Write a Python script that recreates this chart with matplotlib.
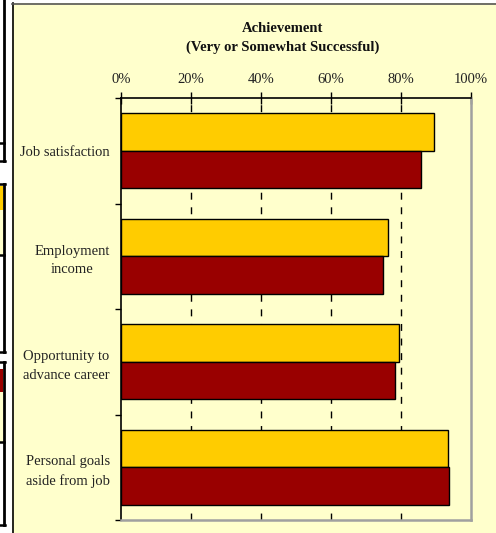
import matplotlib
matplotlib.use("Agg")
import matplotlib.pyplot as plt
from matplotlib.patches import Rectangle
from matplotlib.lines import Line2D
import numpy as np

# ---- data ----
categories = ["Job satisfaction", "Employment\nincome",
              "Opportunity to\nadvance career", "Personal goals\naside from job"]
series_yellow = [89.4, 76.3, 79.3, 93.4]
series_red = [85.6, 75.0, 78.4, 93.7]
x_ticks = [0, 20, 40, 60, 80, 100]
x_tick_labels = ["0%", "20%", "40%", "60%", "80%", "100%"]
title = "Achievement\n(Very or Somewhat Successful)"

YELLOW = "#FFCC00"
RED = "#990000"
BG = "#FFFFCC"
W, H = 496, 533

plt.rcParams['font.family'] = ['Liberation Serif', 'DejaVu Serif']

fig = plt.figure(figsize=(W / 100, H / 100), dpi=100)
fig.patch.set_facecolor("white")

def fx(x):
    return x / W

def fy(y):
    return 1 - y / H

# panel background
fig.add_artist(Rectangle((fx(12), 0), 1 - fx(12), fy(3), transform=fig.transFigure,
                         facecolor=BG, edgecolor="none", zorder=0))
fig.add_artist(Line2D([fx(12.5), fx(12.5)], [0, fy(3)], transform=fig.transFigure,
                      color="black", lw=1.2))
fig.add_artist(Line2D([fx(12), 1], [fy(3.5), fy(3.5)], transform=fig.transFigure,
                      color="#555555", lw=1.2))

# cropped neighbouring panel fragments at the far left
def frag_box(y0, y1, inner=None, strip=None):
    if strip is not None:
        c, s0, s1 = strip
        fig.add_artist(Rectangle((0, fy(s1)), fx(3), fy(s0) - fy(s1), transform=fig.transFigure,
                                 facecolor=c, edgecolor="none"))
    if inner is not None:
        fig.add_artist(Line2D([0, fx(4)], [fy(inner), fy(inner)], transform=fig.transFigure,
                              color="black", lw=1.8))
    fig.add_artist(Line2D([fx(3.5), fx(3.5)], [fy(y0), fy(y1)], transform=fig.transFigure,
                          color="black", lw=2))
    for yy in (y0, y1):
        if yy > 0:
            fig.add_artist(Line2D([0, fx(4.5)], [fy(yy), fy(yy)], transform=fig.transFigure,
                                  color="black", lw=1.8))

frag_box(0, 161, inner=143)
fig.add_artist(Rectangle((0, fy(255)), fx(3), fy(210) - fy(255), transform=fig.transFigure,
                         facecolor=BG, edgecolor="none"))
frag_box(184, 352, inner=255, strip=(YELLOW, 186, 210))
fig.add_artist(Rectangle((0, fy(442)), fx(3), fy(392) - fy(442), transform=fig.transFigure,
                         facecolor=BG, edgecolor="none"))
frag_box(362, 525, inner=442, strip=(RED, 369, 392))

# ---- main axes ----
ax = fig.add_axes([fx(121), fy(520), fx(471) - fx(121), fy(98) - fy(520)])
ax.set_facecolor(BG)

n = len(categories)
pos = np.arange(n)
h = 0.356
ax.barh(pos - h / 2, series_yellow, height=h, color=YELLOW, edgecolor="black", lw=1, zorder=3)
ax.barh(pos + h / 2, series_red, height=h, color=RED, edgecolor="black", lw=1, zorder=3)

ax.set_xlim(0, 100)
ax.set_ylim(n - 0.5, -0.5)

for gx in x_ticks[1:-1]:
    ax.axvline(gx, color="black", lw=1, linestyle=(0, (5, 5.5)), zorder=1)

FS = 10.5
ax.xaxis.tick_top()
ax.set_xticks(x_ticks)
ax.set_xticklabels(x_tick_labels, fontsize=FS, color="#222222")
ax.tick_params(axis="x", direction="inout", length=9, width=1, pad=4, color="black")

ax.set_yticks(pos)
ax.set_yticklabels(categories, fontsize=FS, color="#222222", multialignment="center",
                   linespacing=1.55)
ax.tick_params(axis="y", length=0, pad=8)
ax.set_yticks(np.arange(-0.5, n, 1.0), minor=True)
ax.tick_params(axis="y", which="minor", direction="out", length=4, width=1, color="black")

for s in ("left", "top"):
    ax.spines[s].set_color("black")
    ax.spines[s].set_linewidth(1.2)
for s in ("right", "bottom"):
    ax.spines[s].set_color("#A0A0A0")
    ax.spines[s].set_linewidth(1.8)

fig.text(fx(283), fy(38), title, ha="center", va="center", fontsize=FS,
         fontweight="bold", color="#111111", linespacing=1.6)

fig.savefig("out.png", dpi=100)
